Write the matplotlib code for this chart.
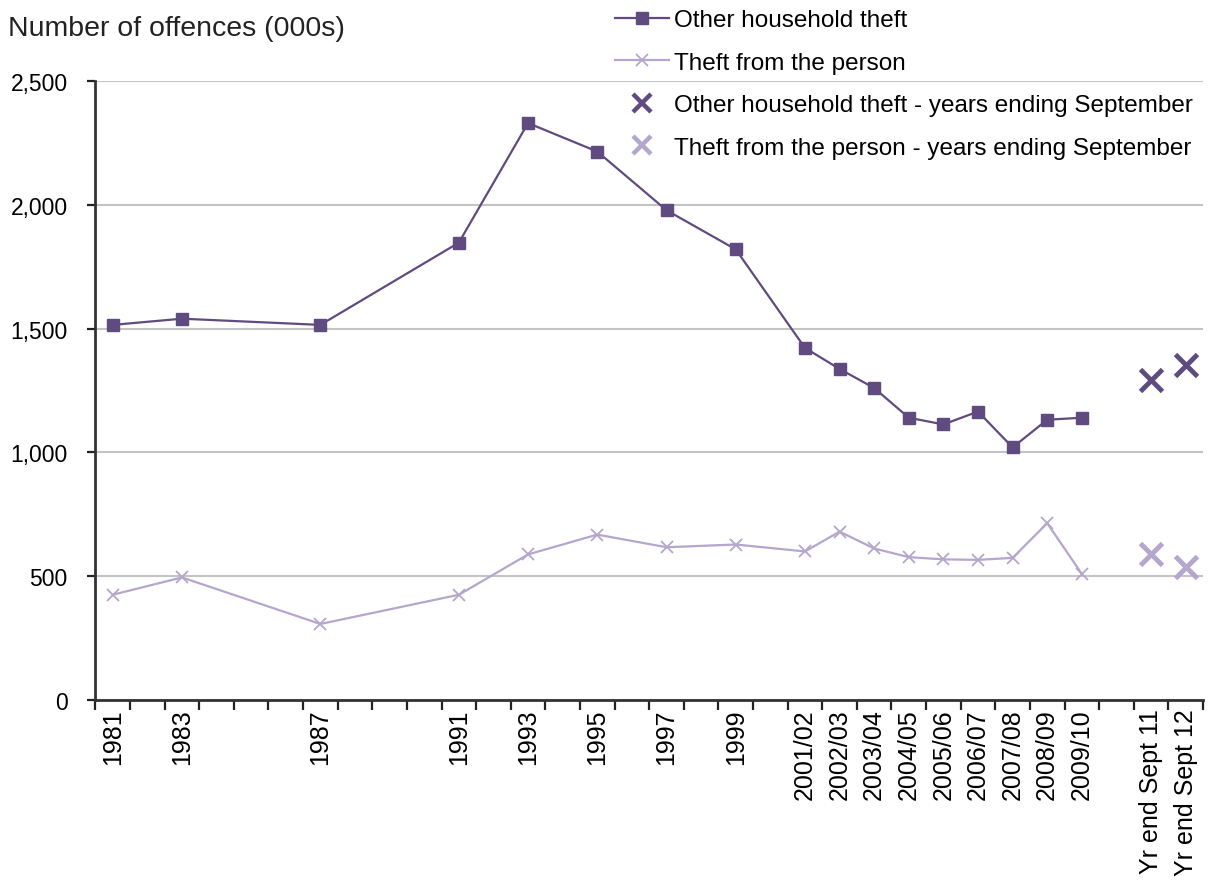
import numpy as np
import matplotlib
matplotlib.use("Agg")
import matplotlib.pyplot as plt
from matplotlib.lines import Line2D
from matplotlib.ticker import FuncFormatter, FixedLocator

plt.rcParams['font.family'] = ['Liberation Sans', 'DejaVu Sans']

# Category axis (blank entries are unlabelled years)
categories = ['1981', '', '1983', '', '', '', '1987', '', '', '', '1991', '',
              '1993', '', '1995', '', '1997', '', '1999', '',
              '2001/02', '2002/03', '2003/04', '2004/05', '2005/06', '2006/07',
              '2007/08', '2008/09', '2009/10', '',
              'Yr end Sept 11', 'Yr end Sept 12']

# Offences (000s); None where no survey estimate exists
other_household = [1515, None, 1540, None, None, None, 1515, None, None, None,
                   1847, None, 2330, None, 2215, None, 1978, None, 1820, None,
                   1422, 1337, 1260, 1140, 1113, 1165, 1020, 1132, 1140, None,
                   None, None]
theft_person = [425, None, 495, None, None, None, 307, None, None, None,
                425, None, 588, None, 668, None, 617, None, 628, None,
                600, 680, 612, 577, 568, 566, 574, 714, 509, None,
                None, None]
# Years ending September
other_household_sept = [None] * 30 + [1291, 1355]
theft_person_sept = [None] * 30 + [588, 538]

dark = '#5f4b80'
light = '#b4a6cc'


def points(values):
    idx = [i for i, v in enumerate(values) if v is not None]
    return np.array(idx), np.array([values[i] for i in idx], dtype=float)


fig = plt.figure(figsize=(12.2, 8.87), dpi=100)
ax = fig.add_axes([95.4 / 1220, 1 - 701 / 887, (1203 - 95.4) / 1220, (701 - 82) / 887])

x, y = points(other_household)
ax.plot(x, y, color=dark, lw=1.6, marker='s', ms=8, mfc=dark, mec=dark, zorder=4)
x, y = points(theft_person)
ax.plot(x, y, color=light, lw=1.6, marker='x', ms=9, mew=1.3, mec=light, zorder=3)
x, y = points(other_household_sept)
ax.plot(x, y, ls='none', marker='x', ms=16, mew=3.5, color=dark, zorder=4)
x, y = points(theft_person_sept)
ax.plot(x, y, ls='none', marker='x', ms=16, mew=3.5, color=light, zorder=4)

ax.set_xlim(-0.5, len(categories) - 0.5)
ax.set_ylim(0, 2500)
ax.set_yticks(np.arange(0, 2501, 500))
ax.yaxis.set_major_formatter(FuncFormatter(lambda v, p: f'{int(v):,}'))
ax.yaxis.grid(True, color='#c4c4c4', lw=1.5)
ax.set_axisbelow(True)

# Ticks at category boundaries, labels at category centres
labelled = [i for i, c in enumerate(categories) if c]
ax.xaxis.set_major_locator(FixedLocator(labelled))
ax.set_xticklabels([categories[i] for i in labelled], rotation=90, va='top', ha='center')
ax.xaxis.set_minor_locator(FixedLocator(np.arange(-0.5, len(categories), 1.0)))
ax.tick_params(axis='x', which='major', length=0, pad=6, labelsize=18)
ax.tick_params(axis='x', which='minor', length=7, width=1.6, color='#222222', direction='out')
ax.tick_params(axis='y', which='major', length=6, width=1.6, color='#222222', pad=14, labelsize=16.5)

for s in ['top', 'right']:
    ax.spines[s].set_visible(False)
for s in ['left', 'bottom']:
    ax.spines[s].set_color('#333333')
    ax.spines[s].set_linewidth(2)

fig.text(8 / 1220, 1 - 29 / 887, 'Number of offences (000s)', fontsize=20.5,
         va='center', ha='left', color='#222222')

handles = [
    Line2D([], [], color=dark, lw=1.6, marker='s', ms=8),
    Line2D([], [], color=light, lw=1.6, marker='x', ms=9, mew=1.3),
    Line2D([], [], ls='none', color=dark, marker='x', ms=13, mew=3.2),
    Line2D([], [], ls='none', color=light, marker='x', ms=13, mew=3.2),
]
labels = ['Other household theft', 'Theft from the person',
          'Other household theft - years ending September',
          'Theft from the person - years ending September']
fig.legend(handles, labels, loc='upper left', bbox_to_anchor=(596 / 1220, 1 + 9 / 887),
           frameon=False, fontsize=17.5, handlelength=2.2, handletextpad=0.22,
           labelspacing=0.84, borderpad=0.3)

fig.savefig('out.png', dpi=100)
